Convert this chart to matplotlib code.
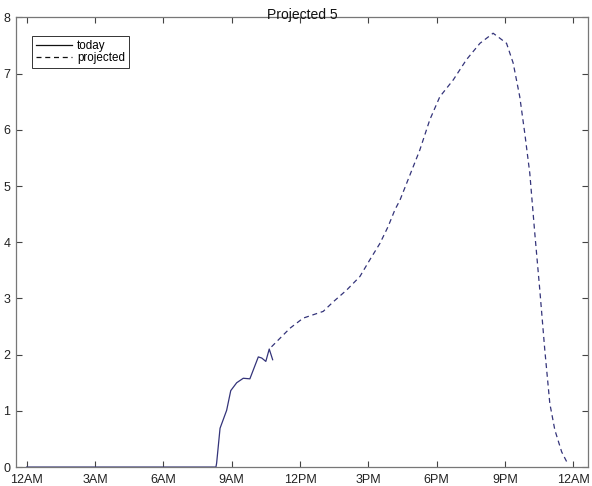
import matplotlib
matplotlib.use('Agg')
from matplotlib import pyplot as plt

# hora del dia (h) y valores
hora_hoy = [0.0, 8.31, 8.34, 8.49, 8.78, 8.96, 9.22, 9.51, 9.80, 10.17, 10.32, 10.50, 10.65, 10.80]
valor_hoy = [0.0, 0.0, 0.07, 0.69, 1.01, 1.36, 1.50, 1.58, 1.57, 1.96, 1.94, 1.88, 2.10, 1.91]

hora_proy = [10.75, 11.56, 12.14, 12.58, 13.02, 13.46, 14.05, 14.63, 15.07, 15.51, 15.87,
             16.17, 16.39, 17.26, 17.70, 18.14, 18.73, 19.31, 19.90, 20.48, 20.78, 21.07,
             21.36, 21.65, 21.87, 22.09, 22.31, 22.53, 22.75, 22.97, 23.19, 23.49, 23.78]
valor_proy = [2.14, 2.47, 2.65, 2.71, 2.77, 2.94, 3.15, 3.39, 3.69, 3.98, 4.28,
              4.58, 4.75, 5.64, 6.18, 6.59, 6.89, 7.25, 7.54, 7.72, 7.63, 7.54,
              7.19, 6.59, 5.94, 5.23, 4.16, 3.15, 2.08, 1.13, 0.66, 0.27, 0.04]

ticks_x = [0, 3, 6, 9, 12, 15, 18, 21, 24]
etiquetas_x = ['12AM', '3AM', '6AM', '9AM', '12PM', '3PM', '6PM', '9PM', '12AM']
ticks_y = [0, 1, 2, 3, 4, 5, 6, 7, 8]

plt.rcParams['font.family'] = ['Liberation Sans', 'DejaVu Sans']

fig = plt.figure(figsize=(5.92, 4.86), dpi=100)
ax = fig.add_axes([0.027, 0.039, 0.966, 0.925])

color_linea = '#34347a'
ax.plot(hora_hoy, valor_hoy, '-', color=color_linea, linewidth=0.9, label='today')
ax.plot(hora_proy, valor_proy, '--', color=color_linea, linewidth=0.9,
        dashes=(4, 3), label='projected')

ax.set_xlim(-0.47, 24.64)
ax.set_ylim(0, 8)
ax.set_xticks(ticks_x)
ax.set_xticklabels(etiquetas_x)
ax.set_yticks(ticks_y)

ax.tick_params(direction='in', top=True, right=True, length=4, width=0.8,
               color='#444444', labelsize=9, labelcolor='#222222')
ax.tick_params(axis='x', pad=5)
ax.tick_params(axis='y', pad=4)
for lado in ax.spines.values():
    lado.set_color('#777777')
    lado.set_linewidth(0.9)

ax.set_title('Projected 5', fontsize=10, pad=-1, color='#111111')

leg = ax.legend(loc='upper left', bbox_to_anchor=(0.018, 0.972), fontsize=8.4,
                handlelength=3.1, handletextpad=0.4, borderpad=0.35,
                labelspacing=0.0, fancybox=False, framealpha=1)
leg.get_frame().set_edgecolor('#333333')
leg.get_frame().set_linewidth(0.7)
for linea in leg.get_lines():
    linea.set_color('#111111')

plt.savefig('out.png', dpi=100)
